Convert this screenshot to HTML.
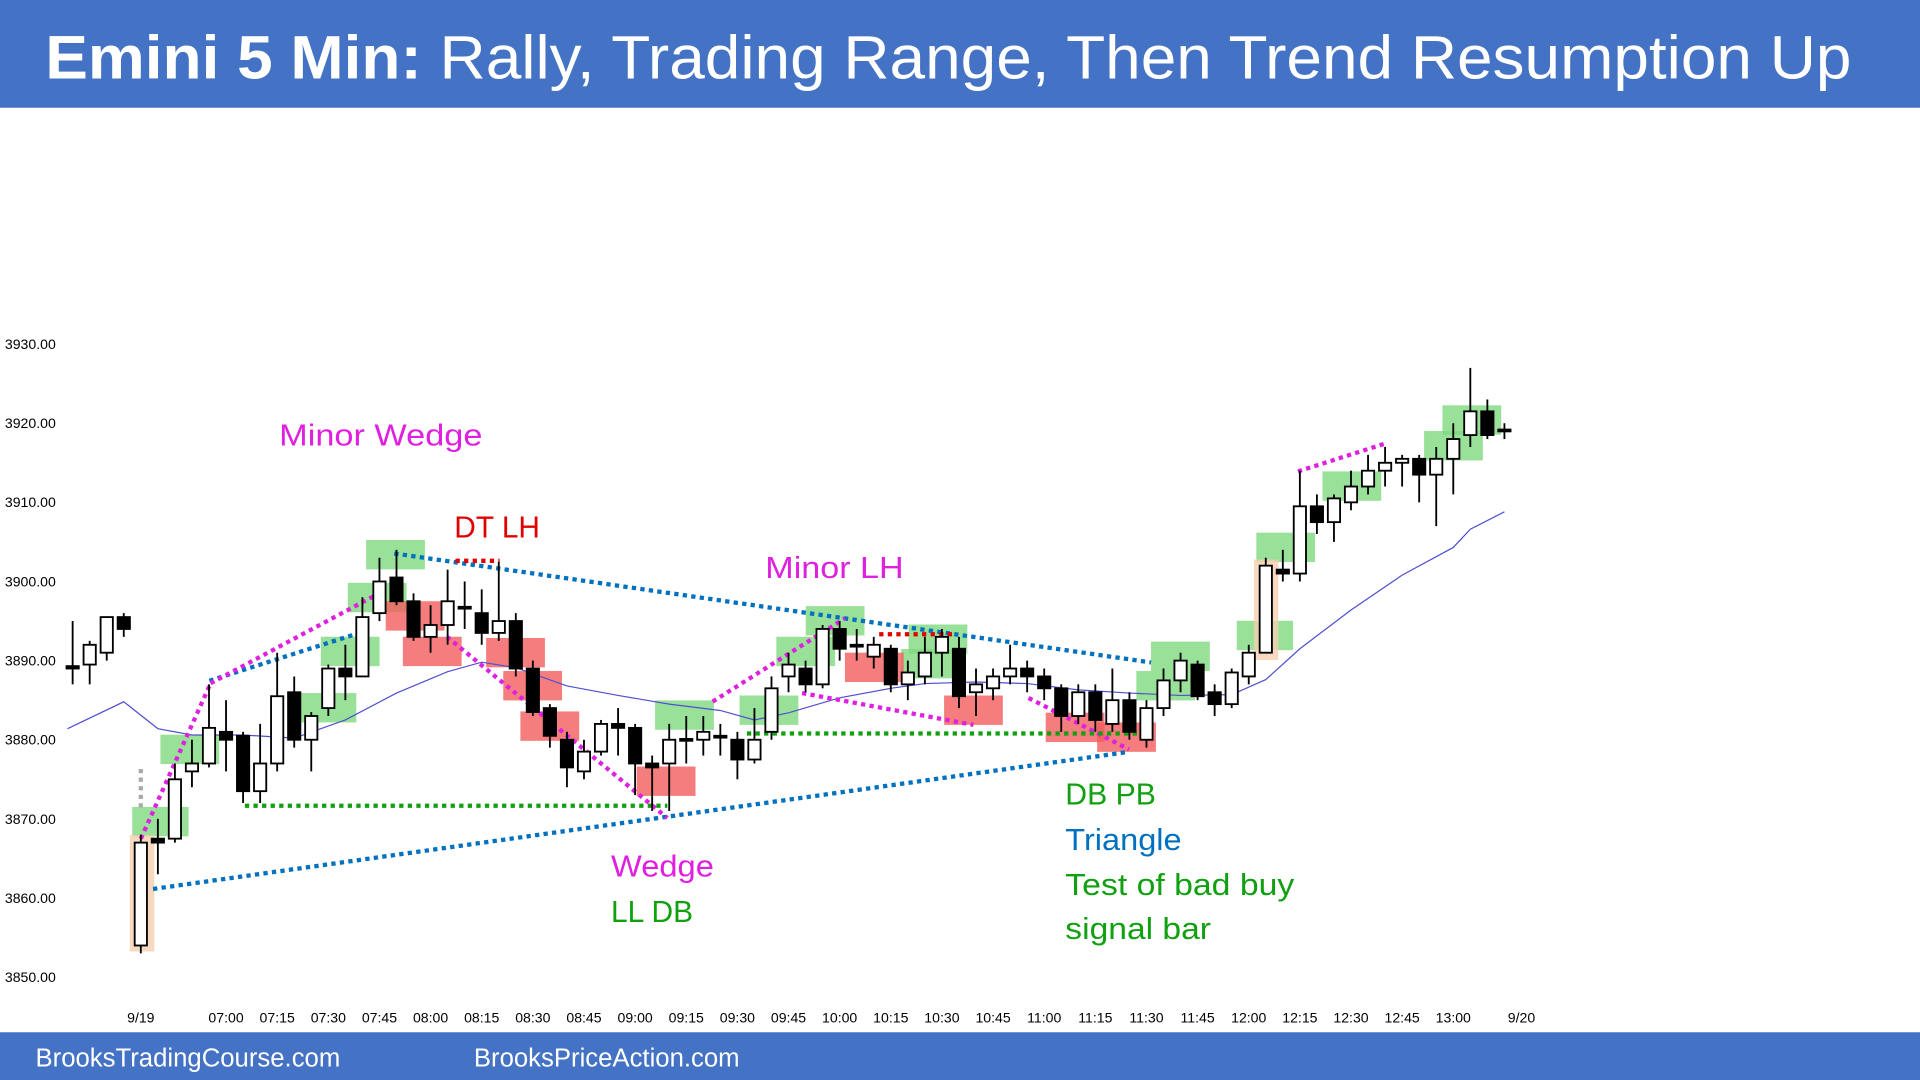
<!DOCTYPE html>
<html><head><meta charset="utf-8"><style>
html,body{margin:0;padding:0;background:#fff;width:1920px;height:1080px;overflow:hidden}
svg{display:block}
text{font-family:"Liberation Sans",sans-serif}
</style></head><body>
<svg id="chart" width="1920" height="1080" viewBox="0 0 1568 882" xmlns="http://www.w3.org/2000/svg">
<rect x="0" y="0" width="1568" height="88" fill="#4472c4"/>
<text x="37" y="64" fill="#fff" font-size="50" textLength="1475" lengthAdjust="spacingAndGlyphs"><tspan font-weight="bold">Emini 5 Min:</tspan> Rally, Trading Range, Then Trend Resumption Up</text>
<rect x="0" y="843" width="1568" height="39" fill="#4472c4"/>
<text x="29" y="871" fill="#fff" font-size="21">BrooksTradingCourse.com</text>
<text x="387" y="871" fill="#fff" font-size="21">BrooksPriceAction.com</text>
<g id="boxes"></g><g id="ema"></g><g id="lines"></g><g id="candles"></g><g id="axes"></g><g id="notes"></g>
</svg>
<script>
const yTicks=[3930,3920,3910,3900,3890,3880,3870,3860,3850];
const xLabels=["9/19","07:00","07:15","07:30","07:45","08:00","08:15","08:30","08:45","09:00","09:15","09:30","09:45","10:00","10:15","10:30","10:45","11:00","11:15","11:30","11:45","12:00","12:15","12:30","12:45","13:00","9/20"];
const xLabelIdx=[0,5,8,11,14,17,20,23,26,29,32,35,38,41,44,47,50,53,56,59,62,65,68,71,74,77,81];
const firstIdx=-4;
const opens=[3889.3,3889.5,3891,3895.5,
3854,3867.5,3867.5,3876,3877,3881,3880.5,3873.5,3877,3886,
3880,3884,3889,3888,3896,3900.5,3897.5,3893,3894.5,3896.8,
3896,3893.5,3895,3889,3884,3880,3876,3878.5,3882,3881.5,
3877,3877,3880,3880,3880.5,3880,3877.5,3881,3888,3889,
3887,3894,3892,3890.5,3891.5,3887,3888,3891,3891.5,3886,
3886.5,3888,3889,3888,3886.5,3883,3886,3882,3885,3880,
3884,3887.5,3889.5,3886,3884.5,3888,3891,3901.5,3901,3909.5,
3907.5,3910,3912,3914,3915,3915.5,3913.5,3915.5,3918.5,3921.5,3919];
const closes=[3889,3892,3895.5,3894,
3867,3867,3875,3877,3881.5,3880,3873.5,3877,3885.5,3880,
3883,3889,3888,3895.5,3900,3897.5,3893,3894.5,3897.5,3896.7,
3893.5,3895,3889,3883.5,3880.5,3876.5,3878.5,3882,3881.5,3877,
3876.5,3880,3880.1,3881,3880.4,3877.5,3880,3886.5,3889.5,3887,
3894,3891.5,3891.9,3892,3887,3888.5,3891,3893,3885.5,3887,
3888,3889,3888,3886.5,3883,3886,3882.5,3885,3881,3884,
3887.5,3890,3885.5,3884.5,3888.5,3891,3902,3901,3909.5,3907.5,
3910.5,3912,3914,3915,3915.5,3913.5,3915.5,3918,3921.5,3918.5,3919.2];
const highs=[3895,3892.5,3895.5,3896,
3868,3870,3877,3880,3887,3885,3881,3882,3891,3888,
3883.5,3889.5,3892,3898,3903,3904,3898.5,3897,3901.5,3900,
3899,3902.5,3896,3890,3884.5,3881,3880,3882.5,3884,3882,
3878,3882,3883,3883,3882,3881,3884,3888,3891,3890,
3894.5,3895,3894,3893,3892,3890,3893,3894,3893,3889,
3889,3892,3890,3889,3887,3887,3887,3889,3886,3885,
3889,3891,3890,3887,3889,3892,3903,3904,3914,3911,
3911,3914,3916,3917,3916,3916,3917,3920,3927,3923,3920];
const lows=[3887,3887,3890,3893,
3853,3863,3867,3874,3876.5,3876,3872,3872,3876,3879,
3876,3883,3885,3888,3895,3897,3892.5,3891,3892,3894,
3892,3892.5,3888,3883,3879,3874,3875,3878,3878,3873,
3871,3871,3877,3878,3878,3875,3877,3880,3886,3886,
3886.5,3890,3890,3889,3886,3885,3887,3888,3884,3883,
3885,3887,3886,3885,3881,3882,3881,3881,3880,3879,
3883,3886,3885,3883,3884,3887,3891,3900,3900,3906,
3905,3909,3911,3912,3912,3910,3907,3911,3917,3918,3918];
const emaIdx=[-4.3,-1,1,3,6,9,12,15,18,20,22,25,28,31,34,36,38,41,44,46,49,52,55,58,61,64,66,68,71,74,77,78,80];
const emaVal=[3881.4,3884.8,3881.4,3880.6,3880.6,3880.2,3882.5,3885.9,3888.6,3889.8,3889.1,3886.8,3885.6,3884.5,3883.7,3882.5,3883.4,3885.3,3886.5,3887.1,3887.3,3887.1,3886.3,3885.9,3885.6,3885.7,3887.6,3891.5,3896.4,3900.8,3904.3,3906.6,3908.8];
const NS="http://www.w3.org/2000/svg";
const X=i=>115+i*13.92;
const Y=p=>281+(3930-p)*6.4625;
function mk(tag,attrs,parent){const e=document.createElementNS(NS,tag);for(const k in attrs)e.setAttribute(k,attrs[k]);document.getElementById(parent).appendChild(e);return e;}
yTicks.forEach(v=>{const t=mk('text',{x:4,y:Y(v)+4,'font-size':11.5,fill:'#000'},'axes');t.textContent=v.toFixed(2);

});
xLabels.forEach((l,k)=>{const t=mk('text',{x:X(xLabelIdx[k]),y:835,'font-size':11.5,fill:'#000','text-anchor':'middle'},'axes');t.textContent=l;

});
const G='#7fd97f',R='#f25c5c',P='#f5cfb0';
[[108,659,46,24,G],[131,600,48,24,G],[243,566,48,24,G],[262,520,48,24,G],[284,476,48,24,G],[299,441,48,24,G],[535,572,48,24,G],[604,568,48,24,G],[634,520,48,24,G],[658,495,48,24,G],[742,510,48,24,G],[736,530,48,24,G],[940,524,48,24,G],[928,548,48,24,G],[1010,507,46,24,G],[1026,435,48,24,G],[1080,385,48,24,G],[1163,352,48,24,G],[1178,331,48,24,G],
[315,491,48,24,R],[329,520,48,24,R],[397,521,48,24,R],[411,548,48,24,R],[425,581,48,24,R],[520,626,48,24,R],[690,533,48,24,R],[771,568,48,24,R],[854,582,48,24,R],[896,590,48,24,R],
[106,682,20,95,P],[1024,457,20,82,P]].forEach(b=>{const r=mk('rect',{x:b[0],y:b[1],width:b[2],height:b[3],fill:b[4],opacity:0.8},'boxes');

});
const ema=mk('polyline',{points:emaIdx.map((v,k)=>X(v)+','+Y(emaVal[k])).join(' '),fill:'none',stroke:'#5050d0','stroke-width':1},'ema');


const B='#0070c0',M='#e020e0',RD='#e00000',GR='#10a010';
[[[125,726],[922,614],B],[[171,556],[290,518],B],[[322,452],[940,541],B],
[[115,685],[172,558],M],[[172,558],[305,487],M],[[365,520],[545,668],M],[[582,573],[690,505],M],[[655,566],[795,592],M],[[840,570],[922,612],M],[[1060,385],[1132,362],M],
[[372,458],[408,458],RD],[[718,518],[780,518],RD],[[200,658],[545,658],GR],[[610,599],[930,599],GR],[[115,628],[115,660],'#aaa']].forEach(l=>{const e=mk('line',{x1:l[0][0],y1:l[0][1],x2:l[1][0],y2:l[1][1],stroke:l[2],'stroke-width':3.5,'stroke-dasharray':'3.5 3.5'},'lines');

});
opens.forEach((o,k)=>{const i=k+firstIdx,c=closes[k],x=X(i);
const w=mk('line',{x1:x,x2:x,y1:Y(highs[k]),y2:Y(lows[k]),stroke:'#000','stroke-width':1.5},'candles');


const top=Y(Math.max(o,c)),h=Math.max(1.5,Math.abs(Y(o)-Y(c)));
const b=mk('rect',{x:x-5,y:top,width:10,height:h,fill:c>=o?'#fff':'#000',stroke:'#000','stroke-width':1.5},'candles');

});
[["Minor Wedge",228,364,M,166],["DT LH",371,439,RD,70],["Minor LH",625,472,M,113],["Wedge",499,716,M,84],["LL DB",499,753,GR,67],["DB PB",870,657,GR,74],["Triangle",870,694,B,95],["Test of bad buy",870,731,GR,187],["signal bar",870,767,GR,119]].forEach(n=>{const t=mk('text',{x:n[1],y:n[2],'font-size':25,fill:n[3],textLength:n[4],lengthAdjust:'spacingAndGlyphs'},'notes');t.textContent=n[0];

});
</script>
</body></html>
